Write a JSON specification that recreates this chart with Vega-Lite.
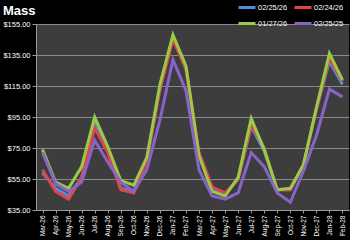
{
  "$schema": "https://vega.github.io/schema/vega-lite/v6.json",
  "width": 313,
  "height": 186,
  "autosize": {"type": "none"},
  "padding": {"left": 36, "top": 24, "right": 1, "bottom": 30},
  "background": "#000000",
  "title": {"text": "Mass", "anchor": "start", "frame": "group", "dx": -33, "dy": 30, "offset": 10, "color": "#ffffff", "fontSize": 13, "fontWeight": "bold", "font": "Liberation Sans"},
  "config": {
    "view": {"fill": "#3d3d3d", "stroke": null},
    "font": "Liberation Sans"
  },
  "datasets": {
    "wide": [
      {"m": "Mar-26", "a": 59, "b": 61, "c": 74, "e": 72},
      {"m": "Apr-26", "a": 49, "b": 47, "c": 53, "e": 52},
      {"m": "May-26", "a": 44, "b": 42, "c": 49, "e": 47},
      {"m": "Jun-26", "a": 56, "b": 56, "c": 63, "e": 53},
      {"m": "Jul-26", "a": 92, "b": 88, "c": 95, "e": 80},
      {"m": "Aug-26", "a": 73, "b": 72, "c": 76, "e": 66},
      {"m": "Sep-26", "a": 49, "b": 48, "c": 54, "e": 53},
      {"m": "Oct-26", "a": 47, "b": 46, "c": 51, "e": 47},
      {"m": "Nov-26", "a": 67, "b": 67, "c": 69, "e": 61},
      {"m": "Dec-26", "a": 113, "b": 113, "c": 116, "e": 93},
      {"m": "Jan-27", "a": 146, "b": 145, "c": 148, "e": 132},
      {"m": "Feb-27", "a": 126, "b": 126, "c": 128, "e": 112},
      {"m": "Mar-27", "a": 71, "b": 72, "c": 70, "e": 61},
      {"m": "Apr-27", "a": 49, "b": 50, "c": 47, "e": 44},
      {"m": "May-27", "a": 45, "b": 46, "c": 44, "e": 42},
      {"m": "Jun-27", "a": 55, "b": 55, "c": 56, "e": 46},
      {"m": "Jul-27", "a": 89, "b": 90, "c": 94, "e": 72},
      {"m": "Aug-27", "a": 73, "b": 75, "c": 74, "e": 63},
      {"m": "Sep-27", "a": 48, "b": 48, "c": 48, "e": 46},
      {"m": "Oct-27", "a": 48, "b": 48, "c": 49, "e": 40},
      {"m": "Nov-27", "a": 64, "b": 64, "c": 64, "e": 60},
      {"m": "Dec-27", "a": 100, "b": 100, "c": 101, "e": 83},
      {"m": "Jan-28", "a": 131, "b": 133, "c": 136, "e": 113},
      {"m": "Feb-28", "a": 116, "b": 118, "c": 119, "e": 108}
    ]
  },
  "data": {"name": "wide"},
  "transform": [
    {"fold": ["a", "b", "c", "e"], "as": ["k", "value"]},
    {"lookup": "k", "from": {"data": {"values": [
      {"k": "a", "series": "02/25/26"},
      {"k": "b", "series": "02/24/26"},
      {"k": "c", "series": "01/27/26"},
      {"k": "e", "series": "02/25/25"}
    ]}, "key": "k", "fields": ["series"]}}
  ],
  "mark": {"type": "line", "strokeWidth": 3},
  "encoding": {
    "x": {
      "field": "m", "type": "ordinal", "sort": null,
      "scale": {"type": "point", "padding": 0.5},
      "axis": {"title": null, "labelAngle": -90, "labelAlign": "right", "labelBaseline": "middle", "labelColor": "#ffffff", "labelFontSize": 6.5, "labelPadding": 2, "tickColor": "#9a9a9a", "tickSize": 3, "domainColor": "#9a9a9a", "grid": false}
    },
    "y": {
      "field": "value", "type": "quantitative",
      "scale": {"domain": [35, 155], "nice": false, "zero": false},
      "axis": {"title": null, "values": [35, 55, 75, 95, 115, 135, 155], "format": "$.2f", "labelColor": "#ffffff", "labelFontSize": 7.5, "labelPadding": 2, "tickColor": "#9a9a9a", "tickSize": 4, "domainColor": "#9a9a9a", "gridColor": "#8a8a8a", "gridWidth": 1}
    },
    "color": {
      "field": "series", "type": "nominal",
      "scale": {"domain": ["02/25/26", "02/24/26", "01/27/26", "02/25/25"], "range": ["#4F8FDB", "#E0454A", "#9BCB46", "#8A63C6"]},
      "legend": {"title": null, "orient": "none", "direction": "horizontal", "legendX": 201, "legendY": -26.5, "columns": 2, "symbolType": "stroke", "symbolSize": 289, "symbolStrokeWidth": 3, "labelColor": "#ffffff", "labelFontSize": 7.5, "labelOffset": 1, "rowPadding": -6, "columnPadding": 0}
    }
  }
}
